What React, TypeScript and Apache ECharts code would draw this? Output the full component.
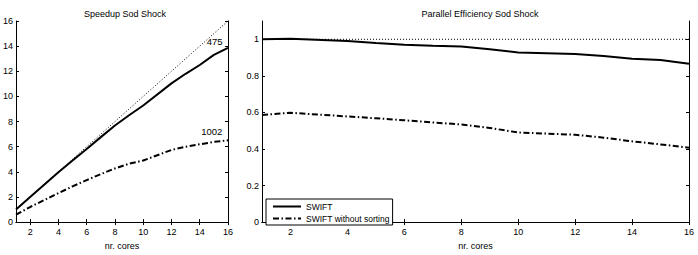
import React, { useEffect, useRef } from "react";
import * as echarts from "echarts";

const cores = [1, 2, 4, 5, 6, 7, 8, 9, 10, 12, 13, 14, 15, 16];
const speedupSwift = [1.0, 2.0, 3.96, 4.9, 5.82, 6.76, 7.69, 8.5, 9.28, 11.04, 11.8, 12.5, 13.3, 13.86];
const speedupNoSort = [0.586, 1.2, 2.31, 2.84, 3.34, 3.82, 4.27, 4.64, 4.9, 5.74, 6.0, 6.19, 6.38, 6.51];
const effSwift = [1.0, 1.003, 0.991, 0.979, 0.97, 0.965, 0.961, 0.945, 0.928, 0.92, 0.908, 0.894, 0.887, 0.866];
const effNoSort = [0.586, 0.598, 0.578, 0.568, 0.557, 0.545, 0.534, 0.515, 0.49, 0.478, 0.462, 0.442, 0.425, 0.407];
const idealCores = [1, 16];
const idealSpeedup = [1, 16];
const idealEff = [1, 1];
const xTicks = [2, 4, 6, 8, 10, 12, 14, 16];
const ySpeedTicks = [0, 2, 4, 6, 8, 10, 12, 14, 16];
const yEffTicks = [0, 0.2, 0.4, 0.6, 0.8, 1];
const annotations = [
  { text: "475", x: 15.06, y: 14.4 },
  { text: "1002", x: 14.85, y: 7.17 },
];

const FONT = "Liberation Sans, Arial, Helvetica, sans-serif";
const pairs = (xs: number[], ys: number[]) => xs.map((x, i) => [x, ys[i]]);
const dashDot = [6, 2.5, 1.5, 2.5];

export default function App() {
  const ref = useRef<HTMLDivElement>(null);
  useEffect(() => {
    if (!ref.current) return;
    const chart = echarts.init(ref.current, undefined, { renderer: "svg" });
    const axisLine = { show: true, lineStyle: { color: "#000", width: 1 } };
    const tick = (vals: number[]) => ({
      show: true,
      inside: true,
      length: 3,
      customValues: vals,
      lineStyle: { color: "#000", width: 1 },
    });
    const label = (vals: number[], margin: number, fmt?: (v: number) => string) => ({
      show: true,
      customValues: vals,
      color: "#000",
      fontSize: 9,
      fontFamily: FONT,
      margin,
      formatter: fmt,
    });
    const noLabel = { show: false };
    const xAx = (g: number) => [
      {
        type: "value",
        gridIndex: g,
        min: 1,
        max: 16,
        position: "bottom",
        axisLine,
        axisTick: tick(xTicks),
        axisLabel: label(xTicks, 5),
        splitLine: { show: false },
        name: "nr. cores",
        nameLocation: "middle",
        nameGap: 17,
        nameTextStyle: { color: "#000", fontSize: 9, fontFamily: FONT },
      },
      {
        type: "value",
        gridIndex: g,
        min: 1,
        max: 16,
        position: "top",
        axisLine,
        axisTick: tick(xTicks),
        axisLabel: noLabel,
        splitLine: { show: false },
      },
    ];
    const yAx = (g: number, max: number, vals: number[]) => [
      {
        type: "value",
        gridIndex: g,
        min: 0,
        max,
        position: "left",
        axisLine,
        axisTick: tick(vals),
        axisLabel: label(vals, 3, (v: number) => String(Math.round(v * 10) / 10)),
        splitLine: { show: false },
      },
      {
        type: "value",
        gridIndex: g,
        min: 0,
        max,
        position: "right",
        axisLine,
        axisTick: tick(vals),
        axisLabel: noLabel,
        splitLine: { show: false },
      },
    ];
    const solid = { color: "#000", width: 2, type: "solid" as const };
    const dd = { color: "#000", width: 2, type: dashDot, cap: "butt" as const };
    const dotted = { color: "#000", width: 1, type: [1, 2] };
    chart.setOption({
      animation: false,
      backgroundColor: "#fff",
      title: [
        {
          text: "Speedup Sod Shock",
          left: 120,
          top: 4,
          textAlign: "center",
          textStyle: { fontSize: 9, fontWeight: "normal", color: "#000", fontFamily: FONT },
        },
        {
          text: "Parallel Efficiency Sod Shock",
          left: 475,
          top: 4,
          textAlign: "center",
          textStyle: { fontSize: 9, fontWeight: "normal", color: "#000", fontFamily: FONT },
        },
      ],
      grid: [
        { left: 12, right: 470, top: 21, bottom: 26 },
        { left: 262, right: 9, top: 21, bottom: 26 },
      ],
      xAxis: [...xAx(0), ...xAx(1)],
      yAxis: [...yAx(0, 16, ySpeedTicks), ...yAx(1, 1.1, yEffTicks)],
      legend: {
        show: true,
        left: 266,
        top: 199,
        orient: "vertical",
        data: ["SWIFT", "SWIFT without sorting"],
        itemWidth: 28,
        itemHeight: 8,
        itemGap: 3,
        padding: [3, 3, 2, 6],
        borderColor: "#000",
        borderWidth: 1,
        backgroundColor: "#fff",
        itemStyle: { opacity: 0 },
        lineStyle: { opacity: 1 },
        textStyle: { fontSize: 8.5, color: "#000", fontFamily: FONT },
      },
      series: [
        {
          name: "ideal speedup",
          type: "line",
          xAxisIndex: 0,
          yAxisIndex: 0,
          data: pairs(idealCores, idealSpeedup),
          symbol: "none",
          lineStyle: dotted,
        },
        {
          name: "SWIFT",
          type: "line",
          xAxisIndex: 0,
          yAxisIndex: 0,
          data: pairs(cores, speedupSwift),
          symbol: "none",
          lineStyle: solid,
          itemStyle: { color: "#000" },
          markPoint: {
            symbol: "circle",
            symbolSize: 0,
            data: annotations.map((a) => ({
              coord: [a.x, a.y],
              label: {
                show: true,
                formatter: a.text,
                position: "inside",
                color: "#000",
                fontSize: 9.5,
                fontFamily: FONT,
              },
            })),
          },
        },
        {
          name: "SWIFT without sorting",
          type: "line",
          xAxisIndex: 0,
          yAxisIndex: 0,
          data: pairs(cores, speedupNoSort),
          symbol: "none",
          lineStyle: dd,
          itemStyle: { color: "#000" },
        },
        {
          name: "ideal efficiency",
          type: "line",
          xAxisIndex: 2,
          yAxisIndex: 2,
          data: pairs(idealCores, idealEff),
          symbol: "none",
          lineStyle: dotted,
        },
        {
          name: "SWIFT",
          type: "line",
          xAxisIndex: 2,
          yAxisIndex: 2,
          data: pairs(cores, effSwift),
          symbol: "none",
          lineStyle: solid,
          itemStyle: { color: "#000" },
        },
        {
          name: "SWIFT without sorting",
          type: "line",
          xAxisIndex: 2,
          yAxisIndex: 2,
          data: pairs(cores, effNoSort),
          symbol: "none",
          lineStyle: dd,
          itemStyle: { color: "#000" },
        },
      ],
    });
    return () => chart.dispose();
  }, []);
  return (
    <div
      ref={ref}
      style={{ position: "fixed", left: 0, top: 0, width: 698, height: 255, background: "#fff" }}
    />
  );
}
